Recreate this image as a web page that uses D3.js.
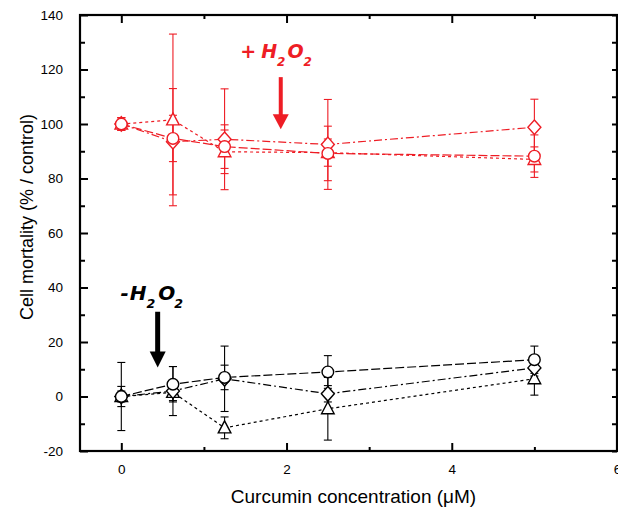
<!DOCTYPE html>
<html>
<head>
<meta charset="utf-8">
<script src="https://cdn.jsdelivr.net/npm/d3@7"></script>
<style>
  html, body { margin: 0; padding: 0; background: #fff; }
  svg { display: block; }
</style>
</head>
<body>
<svg id="chart" width="618" height="514"></svg>
<script>
// ---------------- DATA ----------------
const concentrations = [0, 0.625, 1.25, 2.5, 5];

// + H2O2 (red)
const plusCircle     = [100, 94.7, 91.7, 89.2, 88.2];
const plusCircleErr  = [2.3, 8.5, 8, 10, 7.8];
const plusTriangle   = [100, 101.5, 89.8, 89.5, 87];
const plusTriangleErr= [2.3, 31.5, 8, 5, 4.6];
const plusDiamond    = [100, 93.5, 94.4, 92.5, 98.8];
const plusDiamondErr = [2.3, 19.5, 18.5, 16.5, 10.3];

// - H2O2 (black)
const minusCircle     = [0, 4.5, 7, 9, 13.5];
const minusCircleErr  = [12.5, 6.5, 4.5, 6, 5];
const minusTriangle   = [0, 1.5, -11.5, -4.5, 6.5];
const minusTriangleErr= [3.7, 3, 4, 11.5, 6];
const minusDiamond    = [0, 2, 6.5, 1, 10.5];
const minusDiamondErr = [2, 9, 12, 3, 3];

const xMajorTicks = [0, 2, 4, 6];
const xMinorTicks = [1, 3, 5];
const yMajorTicks = [-20, 0, 20, 40, 60, 80, 100, 120, 140];
const yMinorTicks = [-10, 10, 30, 50, 70, 90, 110, 130];

const xTitle = "Curcumin concentration (μM)";
const yTitle = "Cell mortality (% / control)";

// ---------------- SETUP ----------------
const RED = "#ee1d25";
const BLACK = "#000000";
const svg = d3.select("#chart");
const L = 80, R = 617, T = 15, B = 451;
const x = d3.scaleLinear().domain([-0.5, 6]).range([L, R]);
const y = d3.scaleLinear().domain([-20, 140]).range([B, T]);
const fontAxis = "'Liberation Sans', Arial, sans-serif";

const series = [
  {vals: plusTriangle, err: plusTriangleErr, shape: "triangle", color: RED, dash: "3,3"},
  {vals: plusDiamond,  err: plusDiamondErr,  shape: "diamond",  color: RED, dash: "8,3,2,3"},
  {vals: plusCircle,   err: plusCircleErr,   shape: "circle",   color: RED, dash: "9,3"},
  {vals: minusTriangle, err: minusTriangleErr, shape: "triangle", color: BLACK, dash: "3,3"},
  {vals: minusDiamond,  err: minusDiamondErr,  shape: "diamond",  color: BLACK, dash: "8,3,2,3"},
  {vals: minusCircle,   err: minusCircleErr,   shape: "circle",   color: BLACK, dash: "9,3"}
];

// ---------------- AXES ----------------
function styleAxis(g, width) {
  g.select(".domain").remove();
  g.selectAll(".tick line").attr("stroke", "#000").attr("stroke-width", width);
  g.selectAll(".tick text").attr("font-family", fontAxis).attr("font-size", 13.5).attr("fill", "#000");
}
const fmt = d => String(d);

svg.append("g").attr("transform", `translate(0,${B})`)
  .call(d3.axisBottom(x).tickValues(xMajorTicks).tickSizeInner(-8).tickSizeOuter(0).tickPadding(13).tickFormat(fmt))
  .call(g => styleAxis(g, 2));
svg.append("g").attr("transform", `translate(0,${B})`)
  .call(d3.axisBottom(x).tickValues(xMinorTicks).tickSizeInner(-4).tickSizeOuter(0).tickFormat(""))
  .call(g => styleAxis(g, 2));
svg.append("g").attr("transform", `translate(0,${T})`)
  .call(d3.axisTop(x).tickValues(xMajorTicks).tickSizeInner(-8).tickSizeOuter(0).tickFormat(""))
  .call(g => styleAxis(g, 2));
svg.append("g").attr("transform", `translate(0,${T})`)
  .call(d3.axisTop(x).tickValues(xMinorTicks).tickSizeInner(-4).tickSizeOuter(0).tickFormat(""))
  .call(g => styleAxis(g, 2));

svg.append("g").attr("transform", `translate(${L},0)`)
  .call(d3.axisLeft(y).tickValues(yMajorTicks).tickSizeInner(-8).tickSizeOuter(0).tickPadding(17).tickFormat(fmt))
  .call(g => styleAxis(g, 2));
svg.append("g").attr("transform", `translate(${L},0)`)
  .call(d3.axisLeft(y).tickValues(yMinorTicks).tickSizeInner(-5).tickSizeOuter(0).tickFormat(""))
  .call(g => styleAxis(g, 2));
svg.append("g").attr("transform", `translate(${R},0)`)
  .call(d3.axisRight(y).tickValues(yMajorTicks.concat(yMinorTicks)).tickSizeInner(-5).tickSizeOuter(0).tickFormat(""))
  .call(g => styleAxis(g, 2));

// frame
svg.append("rect").attr("x", L).attr("y", T).attr("width", R - L).attr("height", B - T)
  .attr("fill", "none").attr("stroke", "#000").attr("stroke-width", 2.2);

// titles
svg.append("text").attr("x", (L + R) / 2 + 5).attr("y", 503).attr("text-anchor", "middle")
  .attr("font-family", fontAxis).attr("font-size", 19).text(xTitle);
svg.append("text").attr("transform", `translate(33,${(T + B) / 2 - 16}) rotate(-90)`).attr("text-anchor", "middle")
  .attr("font-family", fontAxis).attr("font-size", 18).text(yTitle);

// ---------------- MARKS ----------------
const plot = svg.append("g");
const line = d3.line().x((d, i) => x(concentrations[i])).y(d => y(d));

series.forEach(s => {
  plot.append("path").datum(s.vals).attr("d", line)
    .attr("fill", "none").attr("stroke", s.color).attr("stroke-width", 1.2)
    .attr("stroke-dasharray", s.dash);
});

series.forEach(s => {
  const g = plot.append("g").attr("stroke", s.color).attr("stroke-width", 1.1);
  s.vals.forEach((v, i) => {
    const cx = x(concentrations[i]);
    const y1 = y(v + s.err[i]), y0 = y(v - s.err[i]);
    g.append("line").attr("x1", cx).attr("x2", cx).attr("y1", y1).attr("y2", y0);
    g.append("line").attr("x1", cx - 4).attr("x2", cx + 4).attr("y1", y1).attr("y2", y1);
    g.append("line").attr("x1", cx - 4).attr("x2", cx + 4).attr("y1", y0).attr("y2", y0);
  });
});

function markerPath(shape) {
  if (shape === "circle") return "M-5.8,0A5.8,5.8 0 1,0 5.8,0A5.8,5.8 0 1,0 -5.8,0Z";
  if (shape === "diamond") return "M0,-7.3L6.5,0L0,7.3L-6.5,0Z";
  return "M0,-7L6.3,5L-6.3,5Z";
}
series.forEach(s => {
  plot.append("g").selectAll("path").data(s.vals).join("path")
    .attr("d", markerPath(s.shape))
    .attr("transform", (d, i) => `translate(${x(concentrations[i])},${y(d)})`)
    .attr("fill", "#fff").attr("stroke", s.color).attr("stroke-width", 1.4);
});

// ---------------- ANNOTATIONS ----------------
function label(xv, yv, prefix, color, size, gaps) {
  const t = svg.append("text").attr("x", x(xv)).attr("y", y(yv))
    .attr("fill", color).attr("font-family", "'DejaVu Sans', sans-serif")
    .attr("font-weight", "bold").attr("font-style", "italic").attr("font-size", size);
  t.append("tspan").text(prefix);
  t.append("tspan").attr("dx", gaps[0]).text("H");
  t.append("tspan").attr("dx", gaps[1]).attr("dy", 8).attr("font-size", size * 0.63).text("2");
  t.append("tspan").attr("dx", gaps[2]).attr("dy", -8).text("O");
  t.append("tspan").attr("dx", gaps[3]).attr("dy", 8).attr("font-size", size * 0.63).text("2");
}
function arrow(xv, yTop, yTip, color, shaftW, headW, headH) {
  const cx = x(xv), t = y(yTop), tip = y(yTip);
  svg.append("line").attr("x1", cx).attr("x2", cx).attr("y1", t).attr("y2", tip - headH + 1)
    .attr("stroke", color).attr("stroke-width", shaftW);
  svg.append("path").attr("d", `M${cx - headW / 2},${tip - headH}L${cx + headW / 2},${tip - headH}L${cx},${tip}Z`)
    .attr("fill", color);
}
label(1.44, 124.1, "+", RED, 19, [5, 0, 2, 0]);
arrow(1.93, 117.2, 98.1, RED, 4, 16, 15);
label(-0.01, 35.4, "-", BLACK, 20, [1, 0, 3, -1]);
arrow(0.44, 31.1, 10.6, BLACK, 5, 16, 16);
</script>
</body>
</html>
